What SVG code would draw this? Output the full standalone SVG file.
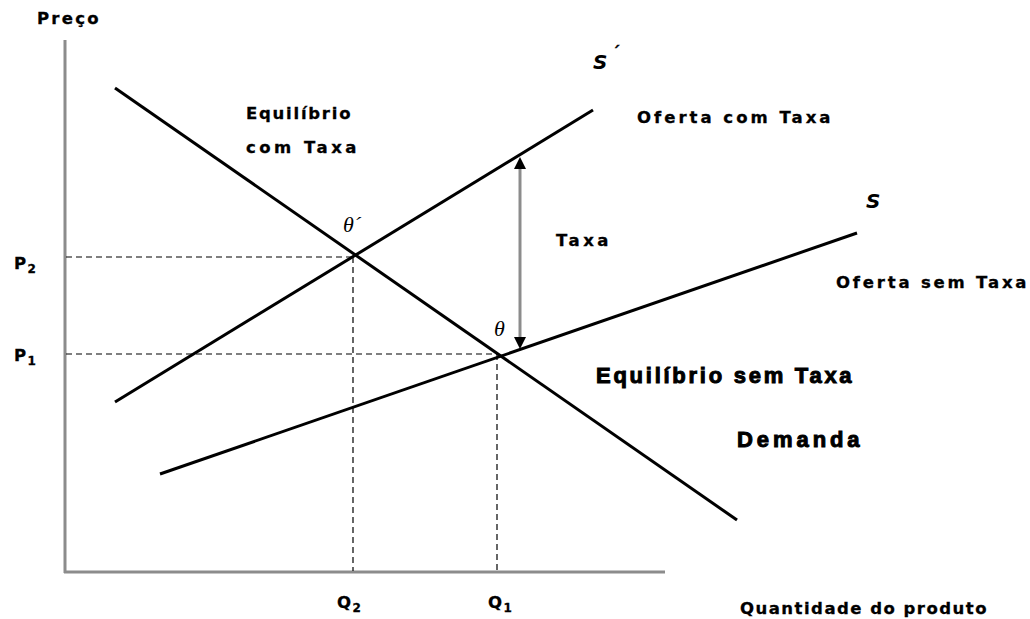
<svg xmlns="http://www.w3.org/2000/svg" width="1030" height="619" viewBox="0 0 1030 619">
<style>
.t{font-family:"DejaVu Sans","Liberation Sans",sans-serif;font-weight:bold;font-size:16.5px;letter-spacing:1.5px;fill:#000;stroke:#000;stroke-width:0.3px}
.big{font-family:"Liberation Sans",Arial,sans-serif;font-size:22px;letter-spacing:0.4px;stroke:#000;stroke-width:1px}
.s{font-family:"DejaVu Sans",sans-serif;font-weight:bold;font-style:italic;font-size:20px;fill:#000}
.th{font-family:"Liberation Serif","Times New Roman",serif;font-style:italic;font-size:22px;fill:#000}
.sub{font-size:12px;letter-spacing:0}
.ln{stroke:#000;stroke-width:3;fill:none}
.ax{stroke:#8c8c8c;stroke-width:3;fill:none}
.ds{stroke:#000;stroke-width:1.2;stroke-dasharray:6,4;fill:none}
</style>
<defs>
<marker id="ah" markerWidth="12" markerHeight="14" refX="12" refY="6" orient="auto" markerUnits="userSpaceOnUse">
<path d="M0,0 L12,6 L0,12 Z" fill="#000"/>
</marker>
</defs>
<rect width="1030" height="619" fill="#fff"/>
<g id="axes">
<line class="ax" x1="65" y1="40" x2="65" y2="573"/>
<line class="ax" x1="64" y1="572" x2="665" y2="572"/>
</g>
<g id="connectors">
<line class="ds" x1="66" y1="257" x2="353" y2="257"/>
<line class="ds" x1="66" y1="354" x2="497" y2="354"/>
<line class="ds" x1="353" y1="257" x2="353" y2="571"/>
<line class="ds" x1="497" y1="354" x2="497" y2="571"/>
<line class="ln" x1="115" y1="88" x2="737" y2="520"/>
<line class="ln" x1="115" y1="402" x2="593" y2="110"/>
<line class="ln" x1="160" y1="474" x2="857" y2="233"/>
<line stroke="#8c8c8c" stroke-width="3" x1="520" y1="168" x2="520" y2="338"/>
<line stroke="none" x1="520" y1="172" x2="520" y2="157" marker-end="url(#ah)"/>
<line stroke="none" x1="520" y1="334" x2="520" y2="349" marker-end="url(#ah)"/>
</g>
<g id="labels">
<text class="t" x="37" y="24" textLength="63">Preço</text>
<text class="t" x="246" y="119" textLength="106">Equilíbrio</text>
<text class="t" x="246" y="153" textLength="112">com Taxa</text>
<text class="s" x="593" y="69">S</text>
<text class="t" x="612" y="58" font-size="12">´</text>
<text class="t" x="637" y="123" textLength="195">Oferta com Taxa</text>
<text class="s" x="866" y="208">S</text>
<text class="t" x="556" y="246" textLength="54">Taxa</text>
<text class="t" x="836" y="288" textLength="192">Oferta sem Taxa</text>
<text class="th" x="343" y="232">θ´</text>
<text class="th" x="494" y="336">θ</text>
<text class="t" x="14" y="269">P<tspan class="sub" dy="4">2</tspan></text>
<text class="t" x="14" y="361">P<tspan class="sub" dy="4">1</tspan></text>
<text class="t big" x="596" y="383" textLength="256">Equilíbrio sem Taxa</text>
<text class="t big" x="737" y="447" textLength="123">Demanda</text>
<text class="t" x="337" y="608">Q<tspan class="sub" dy="4">2</tspan></text>
<text class="t" x="488" y="608">Q<tspan class="sub" dy="4">1</tspan></text>
<text class="t" x="740" y="614" textLength="248">Quantidade do produto</text>
</g>
</svg>
